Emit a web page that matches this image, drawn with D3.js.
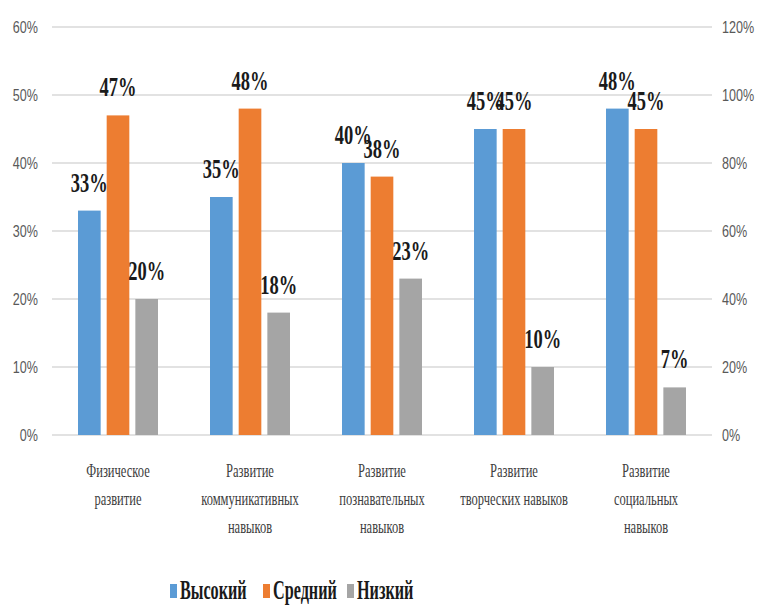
<!DOCTYPE html>
<html>
<head>
<meta charset="utf-8">
<script src="https://cdn.jsdelivr.net/npm/d3@7"></script>
<style>
  body { margin: 0; background: #fff; }
  svg { display: block; }
  .serif { font-family: "Liberation Serif", "DejaVu Serif", "Times New Roman", serif; }
</style>
</head>
<body>
<div id="vis"></div>
<script>
// categories (lines of each label)
const categories = [
    ["Физическое", "развитие"],
    ["Развитие", "коммуникативных", "навыков"],
    ["Развитие", "познавательных", "навыков"],
    ["Развитие", "творческих навыков"],
    ["Развитие", "социальных", "навыков"]
];
const seriesNames = ["Высокий", "Средний", "Низкий"];
const seriesColors = ["#5b9bd5", "#ed7d31", "#a5a5a5"];
const high = [0.33, 0.35, 0.40, 0.45, 0.48];
const medium = [0.47, 0.48, 0.38, 0.45, 0.45];
const low = [0.20, 0.18, 0.23, 0.10, 0.07];
const leftTicks = [0, 0.1, 0.2, 0.3, 0.4, 0.5, 0.6];
const rightTicks = [0, 0.2, 0.4, 0.6, 0.8, 1.0, 1.2];

const width = 760, height = 606;
const svg = d3.select("#vis").append("svg")
    .attr("width", width)
    .attr("height", height);

const series = [high, medium, low];
const idx = d3.range(categories.length);

let x0 = d3.scaleBand().domain(idx).range([52, 712]).paddingInner(0.394).paddingOuter(0.197);
let x1 = d3.scaleBand().domain([0, 1, 2]).range([0, x0.bandwidth()]).paddingInner(0.21);
let y = d3.scaleLinear().domain([0, 0.6]).range([435, 27]);
let y2 = d3.scaleLinear().domain([0, 1.2]).range([435, 27]);
const pct = d3.format(".0%");

// gridlines
svg.append("g").selectAll("line").data(leftTicks).enter().append("line")
    .attr("x1", 52).attr("x2", 712)
    .attr("y1", d => y(d)).attr("y2", d => y(d))
    .attr("stroke", "#d9d9d9").attr("stroke-width", 1.5);

// left axis labels
svg.append("g").selectAll("text").data(leftTicks).enter().append("text")
    .attr("transform", d => "translate(38," + y(d) + ") scale(0.74,1)")
    .attr("dy", "0.35em")
    .attr("text-anchor", "end")
    .attr("font-family", "Liberation Sans, Arial, sans-serif")
    .attr("font-size", 17)
    .attr("fill", "#595959")
    .text(d => pct(d));

// right axis labels
svg.append("g").selectAll("text").data(rightTicks).enter().append("text")
    .attr("transform", d => "translate(722," + y2(d) + ") scale(0.74,1)")
    .attr("dy", "0.35em")
    .attr("text-anchor", "start")
    .attr("font-family", "Liberation Sans, Arial, sans-serif")
    .attr("font-size", 17)
    .attr("fill", "#595959")
    .text(d => pct(d));

// bars
const groups = svg.append("g").selectAll("g").data(idx).enter().append("g")
    .attr("transform", i => "translate(" + x0(i) + ",0)");

groups.selectAll("rect")
    .data(i => series.map((s, k) => ({k: k, v: s[i]})))
    .enter().append("rect")
    .attr("x", d => x1(d.k))
    .attr("width", x1.bandwidth())
    .attr("y", d => y(d.v))
    .attr("height", d => y(0) - y(d.v))
    .attr("fill", d => seriesColors[d.k]);

// data labels
groups.selectAll("text.val")
    .data(i => series.map((s, k) => ({k: k, v: s[i]})))
    .enter().append("text")
    .attr("class", "val serif")
    .attr("transform", d => "translate(" + (x1(d.k) + x1.bandwidth() / 2) + "," + (y(d.v) - 19) + ") scale(0.66,1)")
    .attr("text-anchor", "middle")
    .attr("font-weight", "bold")
    .attr("font-size", 28)
    .attr("fill", "#1a1a1a")
    .text(d => pct(d.v));

// category labels
groups.each(function(i){
    let g = d3.select(this);
    categories[i].forEach((line, j) => {
        g.append("text")
            .attr("class", "serif")
            .attr("transform", "translate(" + (x0.bandwidth() / 2) + "," + (477 + j * 28) + ") scale(0.66,1)")
            .attr("text-anchor", "middle")
            .attr("font-size", 19)
            .attr("fill", "#404040")
            .text(line);
    });
});

// legend
const legendX = [170, 263, 347];
const legend = svg.append("g").selectAll("g").data(seriesNames).enter().append("g")
    .attr("transform", (d, k) => "translate(" + legendX[k] + ",0)");
legend.append("rect")
    .attr("x", 0).attr("y", 584)
    .attr("width", 7).attr("height", 14)
    .attr("fill", (d, k) => seriesColors[k]);
legend.append("text")
    .attr("class", "serif")
    .attr("transform", "translate(10,599) scale(0.6,1)")
    .attr("font-weight", "bold")
    .attr("font-size", 27)
    .attr("fill", "#1a1a1a")
    .text(d => d);
</script>
</body>
</html>
